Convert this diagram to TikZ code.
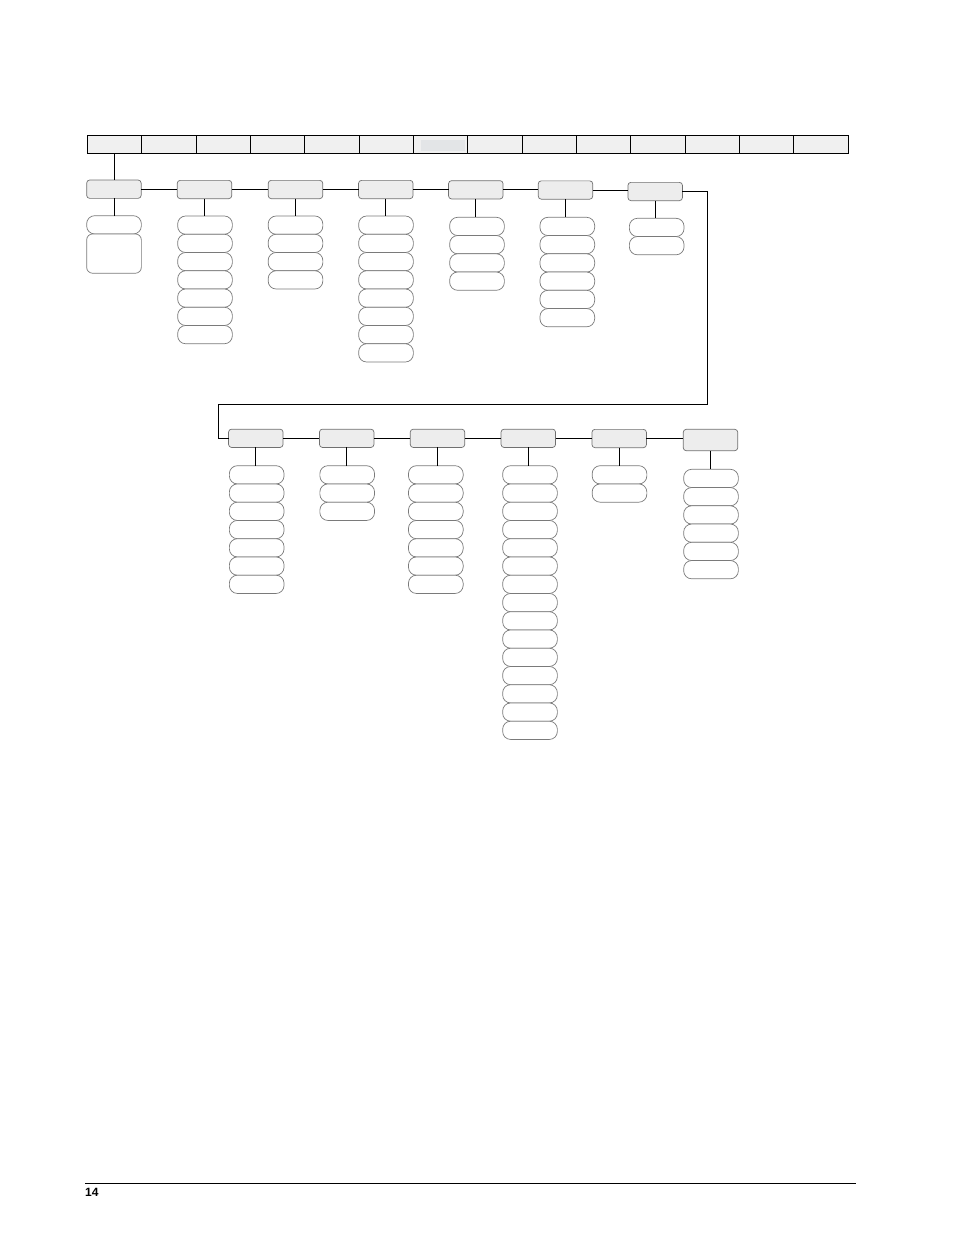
\documentclass[tikz,border=0pt]{standalone}
\usepackage{fontspec}
\setmainfont{Liberation Sans}
\definecolor{barfill}{HTML}{F0F0F0}
\definecolor{hlfill}{HTML}{E3E5E7}
\definecolor{boxfill}{HTML}{EDEDED}
\definecolor{boxline}{HTML}{707070}
\definecolor{ovalline}{HTML}{7A7A7A}
\begin{document}
\begin{tikzpicture}[x=1pt,y=-1pt,
  cell/.style={draw=black,line width=0.9pt,fill=barfill,minimum width=54.34pt,minimum height=18.3pt,inner sep=0pt,outer sep=0pt,anchor=north west},
  menubox/.style={draw=boxline,line width=0.7pt,fill=boxfill,rounded corners=3pt,minimum width=54.5pt,minimum height=18.3pt,inner sep=0pt,outer sep=0pt},
  opt/.style={draw=ovalline,line width=0.7pt,fill=white,rounded corners=8pt,minimum width=54.7pt,minimum height=18.25pt,inner sep=0pt,outer sep=0pt,anchor=north},
  bigopt/.style={draw=ovalline,line width=0.7pt,fill=white,rounded corners=6pt,minimum width=54.7pt,minimum height=39.3pt,inner sep=0pt,outer sep=0pt,anchor=north},
  link/.style={draw=black,line width=0.8pt}]
\useasboundingbox (0,0) rectangle (954,1235);

% top bar
\foreach \i in {1,...,14}
  \node[cell] (c\i) at ({87.3+(\i-1)*54.34},135) {};
\node[fill=hlfill,minimum width=44.3pt,minimum height=11pt,inner sep=0pt,anchor=north west] (hl) at (420.7,140) {};

% first row of menu boxes
\node[menubox] (b1) at (113.9,189.2) {};
\node[menubox] (b2) at (204.5,189.5) {};
\node[menubox] (b3) at (295.5,189.5) {};
\node[menubox] (b4) at (385.8,189.5) {};
\node[menubox] (b5) at (475.8,189.8) {};
\node[menubox] (b6) at (565.5,190.0) {};
\node[menubox] (b7) at (655.2,191.5) {};

% second row of menu boxes
\node[menubox] (b8) at (255.8,438.3) {};
\node[menubox] (b9) at (346.7,438.3) {};
\node[menubox] (b10) at (437.5,438.3) {};
\node[menubox] (b11) at (528.3,438.3) {};
\node[menubox] (b12) at (619.2,438.5) {};
\node[menubox,minimum height=21.4pt] (b13) at (710.5,440.0) {};

% options
\foreach \col/\x/\t/\n in {1/114/215.7/1, 2/205/216/7, 3/295.5/216/4, 4/386/216/8,
    5/477/217.3/4, 6/567.3/217.3/6, 7/656.7/218.3/2,
    8/256.7/465.7/7, 9/347.2/465.7/3, 10/435.8/465.7/7, 11/530/465.7/15,
    12/619.5/465.7/2, 13/711/469.3/6}
{
  \foreach \k in {1,...,\n}
    \node[opt] (o\col-\k) at (\x,{\t+(\k-1)*18.25}) {};
}
\node[bigopt] (o1-2) at (114,233.95) {};

% connectors
\draw[link] (c1.south) -- (c1.south |- b1.north);
\foreach \a/\b in {1/2,2/3,3/4,4/5,5/6,6/7,8/9,9/10,10/11,11/12,12/13}
  \draw[link] (b\a.east) -- (b\a.east -| b\b.west);
\foreach \c in {1,...,13}
  \draw[link] (b\c.south) -- (b\c.south |- o\c-1.north);

\coordinate (r1) at (707.3,191.5);
\coordinate (r2) at (707.3,404.3);
\coordinate (r3) at (218.3,404.3);
\draw[link] (b7.east) -- (b7.east -| r1) -- (r2) -- (r3) -- (r3 |- b8.west) -- (b8.west);

% footer
\coordinate (fl) at (85,1183.3);
\coordinate (fr) at (856,1183.3);
\draw[line width=0.9pt] (fl) -- (fr);
\node[font=\bfseries\fontsize{12}{14}\selectfont,anchor=base west,inner sep=0pt] (pg) at (85,1196.7) {14};
\end{tikzpicture}
\end{document}
